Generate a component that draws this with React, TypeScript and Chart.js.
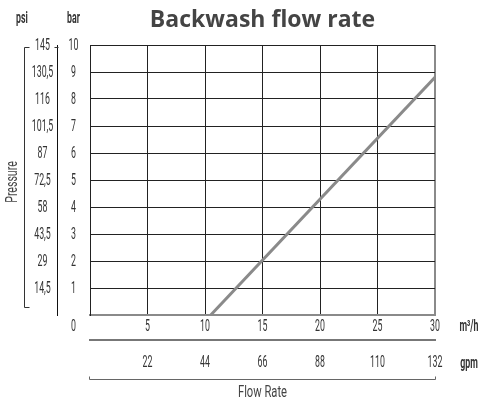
import React, { useEffect, useRef } from 'react';
import { Chart, registerables } from 'chart.js';
Chart.register(...registerables);

const chartTitle = 'Backwash flow rate';
const flowM3h = [10.5, 30];
const pressureBar = [0, 8.8];
const barMin = 0, barMax = 10, barStep = 1;
const psiMin = 0, psiMax = 145, psiStep = 14.5;
const m3hMin = 0, m3hMax = 30, m3hStep = 5;
const gpmMin = 0, gpmMax = 132, gpmStep = 22;
const pressureLabel = 'Pressure';
const flowLabel = 'Flow Rate';
const unitPsi = 'psi', unitBar = 'bar', unitM3h = 'm³/h', unitGpm = 'gpm';

const FONT = "Roboto, 'DejaVu Sans', sans-serif";
const TXT = '#333';
const GRID = '#222';
const LINE = '#8a8a8a';
const NUM_SX = 0.55;
const WORD_SX = 0.7;

const fmt = (v: number) => (Math.round(v * 10) / 10).toString().replace('.', ',');

function drawText(ctx: CanvasRenderingContext2D, text: string, x: number, y: number, font: string, sx: number, color = TXT) {
  ctx.save();
  ctx.translate(x, y);
  ctx.scale(sx, 1);
  ctx.font = font;
  ctx.fillStyle = color;
  ctx.textAlign = 'center';
  ctx.textBaseline = 'middle';
  ctx.fillText(text, 0, 0);
  ctx.restore();
}

const deco = {
  id: 'deco',
  afterDraw(chart: any) {
    const { ctx, chartArea: a, scales } = chart;
    const psi = scales.psi, bar = scales.y, xs = scales.x, g = scales.gpm;
    const psiX = (psi.left + psi.right) / 2;
    const barX = (bar.left + bar.right) / 2;
    const numFont = `16px ${FONT}`;
    const boldFont = `bold 16px ${FONT}`;
    // tick labels from the scales
    bar.ticks.forEach((t: any) => {
      const y = t.value === 0 ? a.bottom + 12 : bar.getPixelForValue(t.value) + 1;
      drawText(ctx, String(t.value), barX, y, numFont, NUM_SX);
    });
    psi.ticks.forEach((t: any) => {
      if (t.value === 0) return;
      drawText(ctx, fmt(t.value), psiX, psi.getPixelForValue(t.value) + 1, numFont, NUM_SX);
    });
    xs.ticks.forEach((t: any) => {
      if (t.value === 0) return;
      drawText(ctx, String(t.value), xs.getPixelForValue(t.value), a.bottom + 12, numFont, NUM_SX);
    });
    g.ticks.forEach((t: any) => {
      if (t.value === 0) return;
      drawText(ctx, String(t.value), g.getPixelForValue(t.value), g.top + 23, numFont, NUM_SX);
    });
    // units
    drawText(ctx, unitPsi, psi.left - 6, 19, boldFont, NUM_SX);
    drawText(ctx, unitBar, barX, 19, boldFont, NUM_SX);
    drawText(ctx, unitM3h, a.right + 34, a.bottom + 12, boldFont, NUM_SX);
    drawText(ctx, unitGpm, a.right + 34, g.top + 24, boldFont, NUM_SX);

    ctx.save();
    // brackets
    ctx.strokeStyle = '#333';
    ctx.lineWidth = 1;
    const bx = psi.left - 3.5;
    ctx.beginPath();
    ctx.moveTo(bx + 5, a.top + 2.5); ctx.lineTo(bx, a.top + 2.5); ctx.lineTo(bx, a.bottom - 7.5); ctx.lineTo(bx + 5, a.bottom - 7.5);
    ctx.stroke();
    ctx.beginPath();
    ctx.moveTo(psi.right - 2.5, a.top + 2.5); ctx.lineTo(psi.right + 1.5, a.top + 2.5);
    ctx.stroke();
    const by = g.bottom + 7.5;
    ctx.strokeStyle = '#666';
    ctx.beginPath();
    ctx.moveTo(a.left - 0.5, by - 3); ctx.lineTo(a.left - 0.5, by); ctx.lineTo(a.right + 0.5, by); ctx.lineTo(a.right + 0.5, by - 3);
    ctx.stroke();
    ctx.restore();

    drawText(ctx, flowLabel, (a.left + a.right) / 2, by + 13, numFont, WORD_SX, '#444');
    ctx.save();
    ctx.translate(13, (a.top + a.bottom) / 2 + 2);
    ctx.rotate(-Math.PI / 2);
    drawText(ctx, pressureLabel, 0, 0, numFont, 0.66, '#444');
    ctx.restore();
  },
};

export default function App() {
  const ref = useRef<HTMLCanvasElement>(null);
  useEffect(() => {
    if (!ref.current) return;
    const chart = new Chart(ref.current, {
      type: 'line',
      data: {
        datasets: [{
          data: flowM3h.map((x, i) => ({ x, y: pressureBar[i] })),
          borderColor: LINE,
          borderWidth: 3,
          pointRadius: 0,
          xAxisID: 'x',
          yAxisID: 'y',
        }],
      },
      options: {
        animation: false,
        responsive: false,
        events: [],
        layout: { padding: { left: 28, right: 45, bottom: 25, top: 0 } },
        plugins: {
          legend: { display: false },
          tooltip: { enabled: false },
          title: {
            display: true,
            text: chartTitle,
            fullSize: false,
            color: '#444',
            font: { family: "'Open Sans', Arial, sans-serif", size: 23, weight: 'bold', lineHeight: 1.2 },
            padding: { top: 7, bottom: 10.4 },
          },
        },
        scales: {
          x: {
            type: 'linear', position: 'bottom', min: m3hMin, max: m3hMax,
            afterFit: (s: any) => { s.height = 25; },
            ticks: { stepSize: m3hStep, display: false },
            grid: { drawTicks: false,
              color: (c: any) => (c.tick && c.tick.value === m3hMax ? LINE : GRID),
              lineWidth: (c: any) => (c.tick && c.tick.value === m3hMax ? 2 : 1) },
            border: { color: LINE, width: 2 },
          },
          gpm: {
            type: 'linear', position: 'bottom', min: gpmMin, max: gpmMax,
            afterFit: (s: any) => { s.height = 32; },
            ticks: { stepSize: gpmStep, display: false },
            grid: { display: false, drawTicks: false },
            border: { color: '#777', width: 2 },
          },
          y: {
            type: 'linear', position: 'left', min: barMin, max: barMax, weight: 0,
            afterFit: (s: any) => { s.width = 33; },
            ticks: { stepSize: barStep, display: false },
            grid: { drawTicks: false,
              color: (c: any) => (c.tick && c.tick.value === 0 ? 'rgba(0,0,0,0)' : GRID) },
            border: { color: GRID, width: 1 },
          },
          psi: {
            type: 'linear', position: 'left', min: psiMin, max: psiMax, weight: 1,
            afterFit: (s: any) => { s.width = 29; },
            ticks: { stepSize: psiStep, display: false },
            grid: { display: false, drawTicks: false },
            border: { color: '#111', width: 1 },
          },
        },
      } as any,
      plugins: [deco],
    });
    return () => chart.destroy();
  }, []);
  return (
    <div style={{ position: 'absolute', left: 0, top: 0, width: 480, height: 397, background: '#fff' }}>
      <canvas ref={ref} width={480} height={397} />
    </div>
  );
}
